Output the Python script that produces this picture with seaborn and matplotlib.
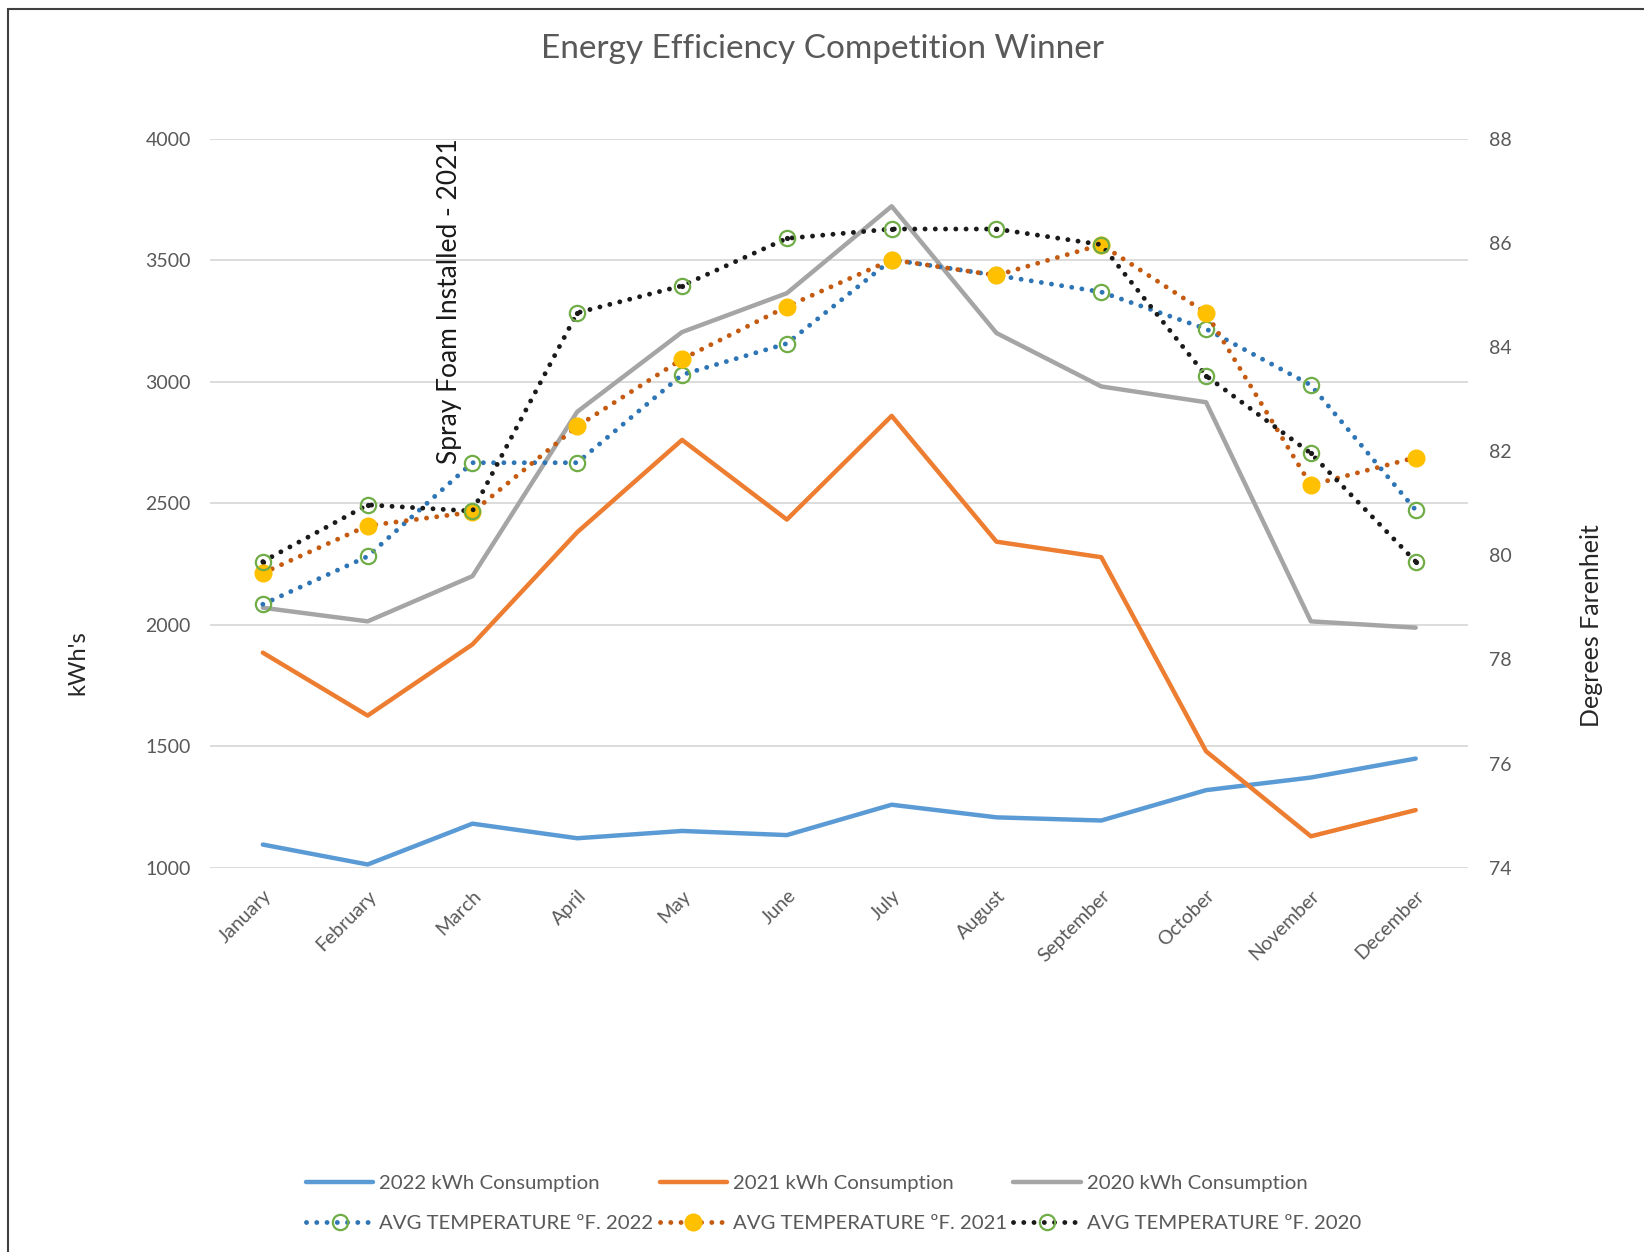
import pandas as pd
import matplotlib.pyplot as plt
import seaborn as sns
from matplotlib.patches import Rectangle

months = ['January', 'February', 'March', 'April', 'May', 'June', 'July',
          'August', 'September', 'October', 'November', 'December']

kwh_2022 = [1095, 1013, 1181, 1121, 1151, 1134, 1259, 1207, 1194, 1319, 1371, 1449]
kwh_2021 = [1885, 1626, 1919, 2381, 2761, 2433, 2860, 2342, 2278, 1479, 1129, 1237]
kwh_2020 = [2070, 2014, 2200, 2877, 3205, 3365, 3723, 3201, 2981, 2916, 2014, 1988]

temp_2022 = [79.06, 79.98, 81.78, 81.78, 83.47, 84.07, 85.68, 85.38, 85.06, 84.35, 83.27, 80.87]
temp_2021 = [79.66, 80.57, 80.83, 82.48, 83.77, 84.78, 85.68, 85.38, 85.97, 84.66, 81.35, 81.88]
temp_2020 = [79.88, 80.97, 80.85, 84.66, 85.18, 86.09, 86.27, 86.27, 85.97, 83.45, 81.96, 79.88]

kwh_ticks = [1000, 1500, 2000, 2500, 3000, 3500, 4000]
temp_ticks = [74, 76, 78, 80, 82, 84, 86, 88]

df = pd.DataFrame({'Month': months,
                   'k22': kwh_2022, 'k21': kwh_2021, 'k20': kwh_2020,
                   't22': temp_2022, 't21': temp_2021, 't20': temp_2020})

sns.set_theme(style="white")
plt.rcParams['font.family'] = ['Lato', 'DejaVu Sans']

text_gray = '#595959'
dotted = (0, (0.01, 2.1))

fig = plt.figure(figsize=(16.44, 12.52), dpi=100)
ax = fig.add_axes([0.128, 0.307, 0.765, 0.582])
ax2 = ax.twinx()

# consumption lines
sns.lineplot(data=df, x='Month', y='k22', ax=ax, color='#5B9BD5', linewidth=3.2,
             sort=False, label='2022 kWh Consumption', legend=False)
sns.lineplot(data=df, x='Month', y='k21', ax=ax, color='#ED7D31', linewidth=3.2,
             sort=False, label='2021 kWh Consumption', legend=False)
sns.lineplot(data=df, x='Month', y='k20', ax=ax, color='#A5A5A5', linewidth=3.2,
             sort=False, label='2020 kWh Consumption', legend=False)

# temperature lines
sns.lineplot(data=df, x='Month', y='t22', ax=ax2, color='#2E75B6', linewidth=3.5,
             linestyle=dotted, dash_capstyle='round', sort=False,
             marker='o', markersize=11, markerfacecolor='none',
             markeredgecolor='#70AD47', markeredgewidth=1.6,
             label='AVG TEMPERATURE ºF. 2022', legend=False)
sns.lineplot(data=df, x='Month', y='t21', ax=ax2, color='#C55A11', linewidth=3.5,
             linestyle=dotted, dash_capstyle='round', sort=False,
             marker='o', markersize=12, markerfacecolor='#FFC000',
             markeredgecolor='#FFC000', markeredgewidth=1,
             label='AVG TEMPERATURE ºF. 2021', legend=False)
sns.lineplot(data=df, x='Month', y='t20', ax=ax2, color='#1A1A1A', linewidth=3.5,
             linestyle=dotted, dash_capstyle='round', sort=False,
             marker='o', markersize=11, markerfacecolor='none',
             markeredgecolor='#70AD47', markeredgewidth=1.6,
             label='AVG TEMPERATURE ºF. 2020', legend=False)
sns.scatterplot(data=df, x='Month', y='t20', ax=ax2, color='#1A1A1A', s=14,
                linewidth=0, legend=False)

ax.set_xlim(-0.5, 11.5)
ax.set_ylim(1000, 4000)
ax.set_yticks(kwh_ticks)
ax2.set_ylim(74, 88)
ax2.set_yticks(temp_ticks)

ax.set_axisbelow(True)
ax.yaxis.grid(True, color='#D9D9D9', linewidth=1.3)
ax.xaxis.grid(False)
ax2.grid(False)
for a in (ax, ax2):
    for s in a.spines.values():
        s.set_visible(False)

ax.tick_params(axis='y', length=0, pad=14, labelsize=14, labelcolor=text_gray)
ax2.tick_params(axis='y', length=0, pad=15, labelsize=14, labelcolor=text_gray)
ax.tick_params(axis='x', length=0, pad=14, labelsize=14, labelcolor=text_gray)
plt.setp(ax.get_xticklabels(), rotation=45, ha='right', rotation_mode='anchor')

ax.set_xlabel('')
ax.set_ylabel("kWh's", fontsize=17, color='#262626')
ax.yaxis.set_label_coords(-0.097, 0.282)
ax2.set_ylabel('Degrees Farenheit', fontsize=18, color='#262626')
ax2.yaxis.set_label_coords(1.089, 0.332)

ax.text(1.78, 2660, 'Spray Foam Installed - 2021', rotation=90, fontsize=19,
        color='#1A1A1A', ha='center', va='bottom')

fig.text(0.5, 0.961, 'Energy Efficiency Competition Winner', ha='center', va='center',
         fontsize=24, color=text_gray)

# legend in Excel order (row by row)
h1, l1 = ax.get_legend_handles_labels()
h2, l2 = ax2.get_legend_handles_labels()
handles = [h1[0], h2[0], h1[1], h2[1], h1[2], h2[2]]
labels = [l1[0], l2[0], l1[1], l2[1], l1[2], l2[2]]
leg = fig.legend(handles, labels, loc='center', bbox_to_anchor=(0.507, 0.039), ncol=3,
                 frameon=False, fontsize=14.7, handlelength=3.3, handletextpad=0.3,
                 columnspacing=0.3, labelspacing=1.1, numpoints=1)
for t in leg.get_texts():
    t.set_color(text_gray)

fig.patches.append(Rectangle((0.005, -0.02), 1.1, 1.013, transform=fig.transFigure,
                             fill=False, edgecolor='#404040', linewidth=1.5))

plt.savefig('out.png', dpi=100)
